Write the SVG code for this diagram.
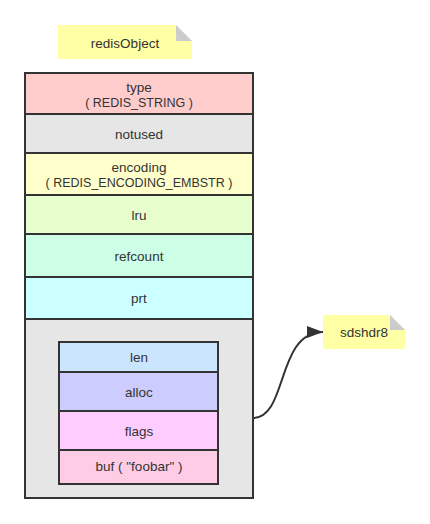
<svg xmlns="http://www.w3.org/2000/svg" width="430" height="524" viewBox="0 0 430 524">
<style>
text{font-family:"Liberation Sans",Arial,sans-serif;font-size:13.5px;fill:#333;text-anchor:middle}
.caps{font-size:12.5px}
.cell{stroke:#333;stroke-width:2}
.note{fill:#ffffa6}
.fold{fill:#cccccc}
</style>
<defs>
<marker id="arr" markerWidth="16" markerHeight="12" refX="16" refY="6" orient="auto" markerUnits="userSpaceOnUse">
<path d="M0,0 L16,6 L0,12 Z" fill="#333"/>
</marker>
</defs>
<rect width="430" height="524" fill="#fff"/>
<g id="note-redisObject">
<path class="note" d="M58,25 H176 L192,41 V59 H58 Z"/>
<path class="fold" d="M176,25 L192,41 H176 Z"/>
<text x="125" y="48">redisObject</text>
</g>
<g id="redisObject">
<rect class="cell" x="25" y="319" width="228" height="179" fill="#e6e6e6"/>
<rect class="cell" x="25" y="73" width="228" height="41" fill="#ffcccc"/>
<rect class="cell" x="25" y="114" width="228" height="39" fill="#e6e6e6"/>
<rect class="cell" x="25" y="153" width="228" height="42" fill="#ffffcc"/>
<rect class="cell" x="25" y="195" width="228" height="39" fill="#e6ffcc"/>
<rect class="cell" x="25" y="234" width="228" height="43" fill="#ccffe6"/>
<rect class="cell" x="25" y="277" width="228" height="42" fill="#ccffff"/>
<text x="139" y="91.5">type<tspan class="caps" x="139" dy="15.5">( REDIS_STRING )</tspan></text>
<text x="139" y="139">notused</text>
<text x="139" y="171.5">encoding<tspan class="caps" x="139" dy="15.5">( REDIS_ENCODING_EMBSTR )</tspan></text>
<text x="139" y="220">lru</text>
<text x="139" y="261">refcount</text>
<text x="139" y="303">prt</text>
</g>
<g id="sdshdr8-struct">
<rect class="cell" x="59" y="342" width="159" height="30" fill="#cce5ff"/>
<rect class="cell" x="59" y="372" width="159" height="39" fill="#ccccff"/>
<rect class="cell" x="59" y="411" width="159" height="39" fill="#ffccff"/>
<rect class="cell" x="59" y="450" width="159" height="34" fill="#ffcce6"/>
<text x="139" y="362">len</text>
<text x="139" y="397">alloc</text>
<text x="139" y="436">flags</text>
<text x="139" y="471">buf ( "foobar" )</text>
</g>
<g id="note-sdshdr8">
<path class="note" d="M323,315 H390 L405,330 V349 H323 Z"/>
<path class="fold" d="M390,315 L405,330 H390 Z"/>
<text x="364" y="337">sdshdr8</text>
</g>
<g id="connectors">
<path d="M253,418 C288,418 276,332 323,332" fill="none" stroke="#333" stroke-width="2" marker-end="url(#arr)"/>
</g>
</svg>
